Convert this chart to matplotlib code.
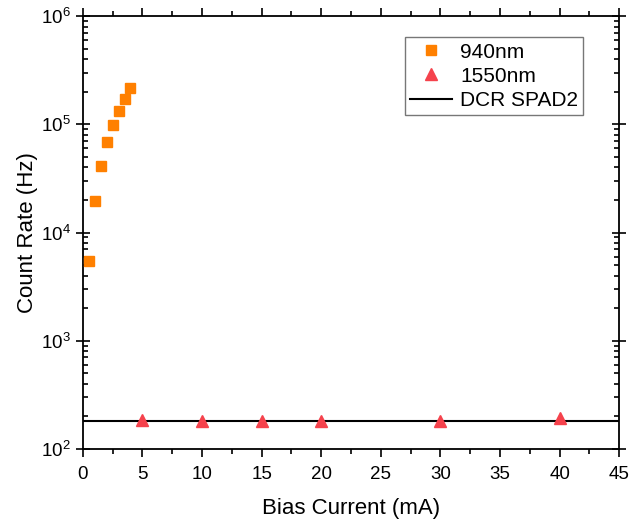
import numpy as np
import matplotlib
matplotlib.use('Agg')
from matplotlib import pyplot as plt
from matplotlib.ticker import LogLocator, MultipleLocator, NullFormatter

plt.rcParams['font.family'] = 'Liberation Sans'
plt.rcParams['mathtext.fontset'] = 'custom'
plt.rcParams['mathtext.rm'] = 'Liberation Sans'
plt.rcParams['mathtext.it'] = 'Liberation Sans'

# 940nm data (bias current in mA, count rate in Hz)
i_940 = [0.5, 1.0, 1.5, 2.0, 2.5, 3.0, 3.5, 4.0]
rate_940 = [5400, 19500, 41000, 68000, 98000, 134000, 173000, 218000]

# 1550nm data
i_1550 = [5, 10, 15, 20, 30, 40]
rate_1550 = [186, 180, 180, 183, 180, 192]

dcr_spad2 = 180

fig = plt.figure(figsize=(6.37, 5.19), dpi=100)
ax = fig.add_axes([0.130, 0.135, 0.842, 0.834])

ax.axhline(dcr_spad2, color='black', lw=1.5, label='DCR SPAD2', zorder=2)
ax.plot(i_940, rate_940, 's', color='#FF8000', ms=7, mec='#FF8000', label='940nm', zorder=3)
ax.plot(i_1550, rate_1550, '^', color='#F5424C', ms=8, label='1550nm', zorder=3)

ax.set_yscale('log')
ax.set_xlim(0, 45)
ax.set_ylim(1e2, 1e6)
ax.xaxis.set_major_locator(MultipleLocator(5))
ax.xaxis.set_minor_locator(MultipleLocator(2.5))
ax.yaxis.set_major_locator(LogLocator(base=10, numticks=10))
ax.yaxis.set_minor_locator(LogLocator(base=10, subs=np.arange(2, 10), numticks=10))
ax.yaxis.set_minor_formatter(NullFormatter())

ax.tick_params(axis='x', which='major', direction='out', length=6, width=1.2,
               labelsize=13.5, top=True, pad=6)
ax.tick_params(axis='x', which='minor', direction='out', length=3.5, width=1.2, top=True)
ax.tick_params(axis='y', which='major', direction='inout', length=10, width=1.2,
               labelsize=13.5, right=True)
ax.tick_params(axis='y', which='minor', direction='in', length=3.5, width=1.2, right=True)
for s in ax.spines.values():
    s.set_linewidth(1.3)

ax.set_xlabel('Bias Current (mA)', fontsize=16, labelpad=11)
ax.set_ylabel('Count Rate (Hz)', fontsize=16, labelpad=2)

handles, labels = ax.get_legend_handles_labels()
order = [1, 2, 0]
leg = ax.legend([handles[k] for k in order], [labels[k] for k in order],
                loc='upper right', bbox_to_anchor=(0.933, 0.951), borderaxespad=0,
                fontsize=15, frameon=True, fancybox=False, edgecolor='#555555',
                handlelength=2.0, borderpad=0.25, labelspacing=0.25, handletextpad=0.4)
leg.get_frame().set_linewidth(1.0)

fig.savefig('out.png', dpi=100)
